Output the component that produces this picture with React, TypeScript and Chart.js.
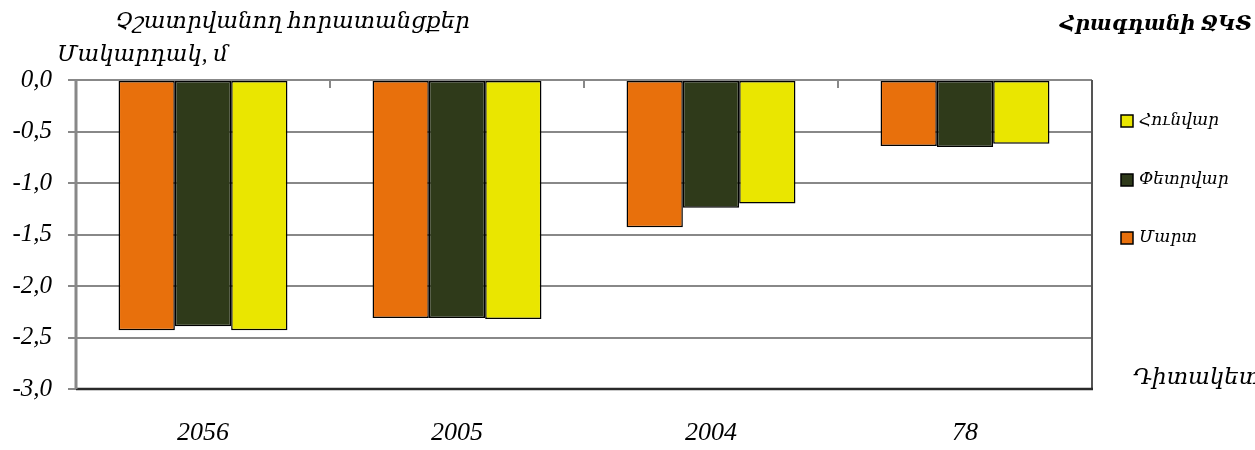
import React, { useEffect, useRef } from "react";
import { Chart, registerables } from "chart.js";

Chart.register(...registerables);

const categories = ["2056", "2005", "2004", "78"];
const seriesNames = ["Մարտ", "Փետրվար", "Հունվար"];
const martValues = [-2.43, -2.31, -1.43, -0.64];
const petrvarValues = [-2.39, -2.31, -1.24, -0.65];
const hunvarValues = [-2.43, -2.32, -1.2, -0.62];
const seriesColors = ["#E8700C", "#2F3A1A", "#EAE600"];

const titleTop = "Չշատրվանող հորատանցքեր";
const yTitle = "Մակարդակ, մ";
const rightTitle = "Հրագդանի ՋԿՏ";
const xTitle = "Դիտակետ";

const FONT = "'Liberation Serif', 'DejaVu Serif', serif";

function fitText(ctx: any, text: string, x1: number, x2: number, y: number, weight: string, maxSize: number) {
  let size = maxSize;
  ctx.font = `italic ${weight} ${size}px ${FONT}`;
  const w = ctx.measureText(text).width;
  if (w > 0) size = Math.min(maxSize + 4, (size * (x2 - x1)) / w);
  ctx.font = `italic ${weight} ${size}px ${FONT}`;
  ctx.textAlign = "left";
  ctx.fillText(text, x1, y);
}

const decorPlugin = {
  id: "decor",
  afterDatasetsDraw(chart: any) {
    const { ctx, chartArea, scales } = chart;
    const { left, right, top, bottom } = chartArea;
    ctx.save();
    const xs = scales.x;
    ctx.strokeStyle = "#888888";
    ctx.lineWidth = 2;
    for (let i = 0; i < categories.length - 1; i++) {
      const b = (xs.getPixelForValue(i) + xs.getPixelForValue(i + 1)) / 2;
      ctx.beginPath();
      ctx.moveTo(b, top);
      ctx.lineTo(b, top + 8);
      ctx.stroke();
    }
    ctx.strokeStyle = "#555555";
    ctx.lineWidth = 2;
    ctx.beginPath();
    ctx.moveTo(right, top);
    ctx.lineTo(right, bottom);
    ctx.stroke();
    ctx.strokeStyle = "#2a2a2a";
    ctx.lineWidth = 2.5;
    ctx.beginPath();
    ctx.moveTo(left, bottom);
    ctx.lineTo(right + 1, bottom);
    ctx.stroke();
    ctx.strokeStyle = "#888888";
    ctx.lineWidth = 3;
    ctx.beginPath();
    ctx.moveTo(left, top);
    ctx.lineTo(left, bottom);
    ctx.stroke();

    ctx.fillStyle = "#000";
    ctx.textBaseline = "middle";
    fitText(ctx, titleTop, 115, 470, 22, "normal", 24);
    fitText(ctx, yTitle, 57, 228, 55, "normal", 24);
    ctx.font = `italic 23px ${FONT}`;
    ctx.textAlign = "left";
    ctx.fillText(xTitle, 1133, 378);
    fitText(ctx, rightTitle, 1060, 1252, 25, "bold", 24);

    const ds = chart.data.datasets;
    const ys = [121, 180, 238];
    ctx.font = `italic 17px ${FONT}`;
    ctx.textAlign = "left";
    for (let k = 0; k < ds.length; k++) {
      const d = ds[ds.length - 1 - k];
      const y = ys[k];
      ctx.fillStyle = d.backgroundColor;
      ctx.fillRect(1121, y - 6, 12, 12);
      ctx.strokeStyle = "#000";
      ctx.lineWidth = 1.5;
      ctx.strokeRect(1121, y - 6, 12, 12);
      ctx.fillStyle = "#000";
      ctx.fillText(d.label, 1139, y);
    }
    ctx.restore();
  },
};

export default function App() {
  const ref = useRef<HTMLCanvasElement>(null);
  useEffect(() => {
    document.body.style.margin = "0";
    const values = [martValues, petrvarValues, hunvarValues];
    const chart = new Chart(ref.current!, {
      type: "bar",
      data: {
        labels: categories,
        datasets: seriesNames.map((name, i) => ({
          label: name,
          data: values[i],
          backgroundColor: seriesColors[i],
          borderColor: "#000000",
          borderWidth: 1.5,
          borderSkipped: false,
          categoryPercentage: 0.665,
          barPercentage: 1,
        })),
      },
      options: {
        animation: false,
        responsive: false,
        maintainAspectRatio: false,
        layout: { padding: { left: 0, right: 163, top: 80, bottom: 0 } },
        plugins: {
          legend: { display: false },
          tooltip: { enabled: false },
          title: { display: false },
        },
        scales: {
          x: {
            grid: { display: false },
            border: { display: false },
            ticks: {
              padding: 21,
              color: "#000",
              font: { family: FONT, size: 26, style: "italic" },
            },
            afterFit: (s: any) => {
              s.height = 61;
            },
          },
          y: {
            min: -3,
            max: 0,
            grid: { color: "#888888", lineWidth: 2, tickLength: 8 },
            border: { display: false },
            ticks: {
              stepSize: 0.5,
              padding: 16,
              color: "#000",
              font: { family: FONT, size: 25, style: "italic" },
              callback: (v: any) => Number(v).toFixed(1).replace(".", ","),
            },
            afterFit: (s: any) => {
              s.width = 76;
            },
          },
        },
      },
      plugins: [decorPlugin],
    });
    return () => chart.destroy();
  }, []);
  return (
    <div style={{ position: "relative", width: 1255, height: 450, background: "#fff" }}>
      <canvas ref={ref} width={1255} height={450} style={{ display: "block" }} />
    </div>
  );
}
